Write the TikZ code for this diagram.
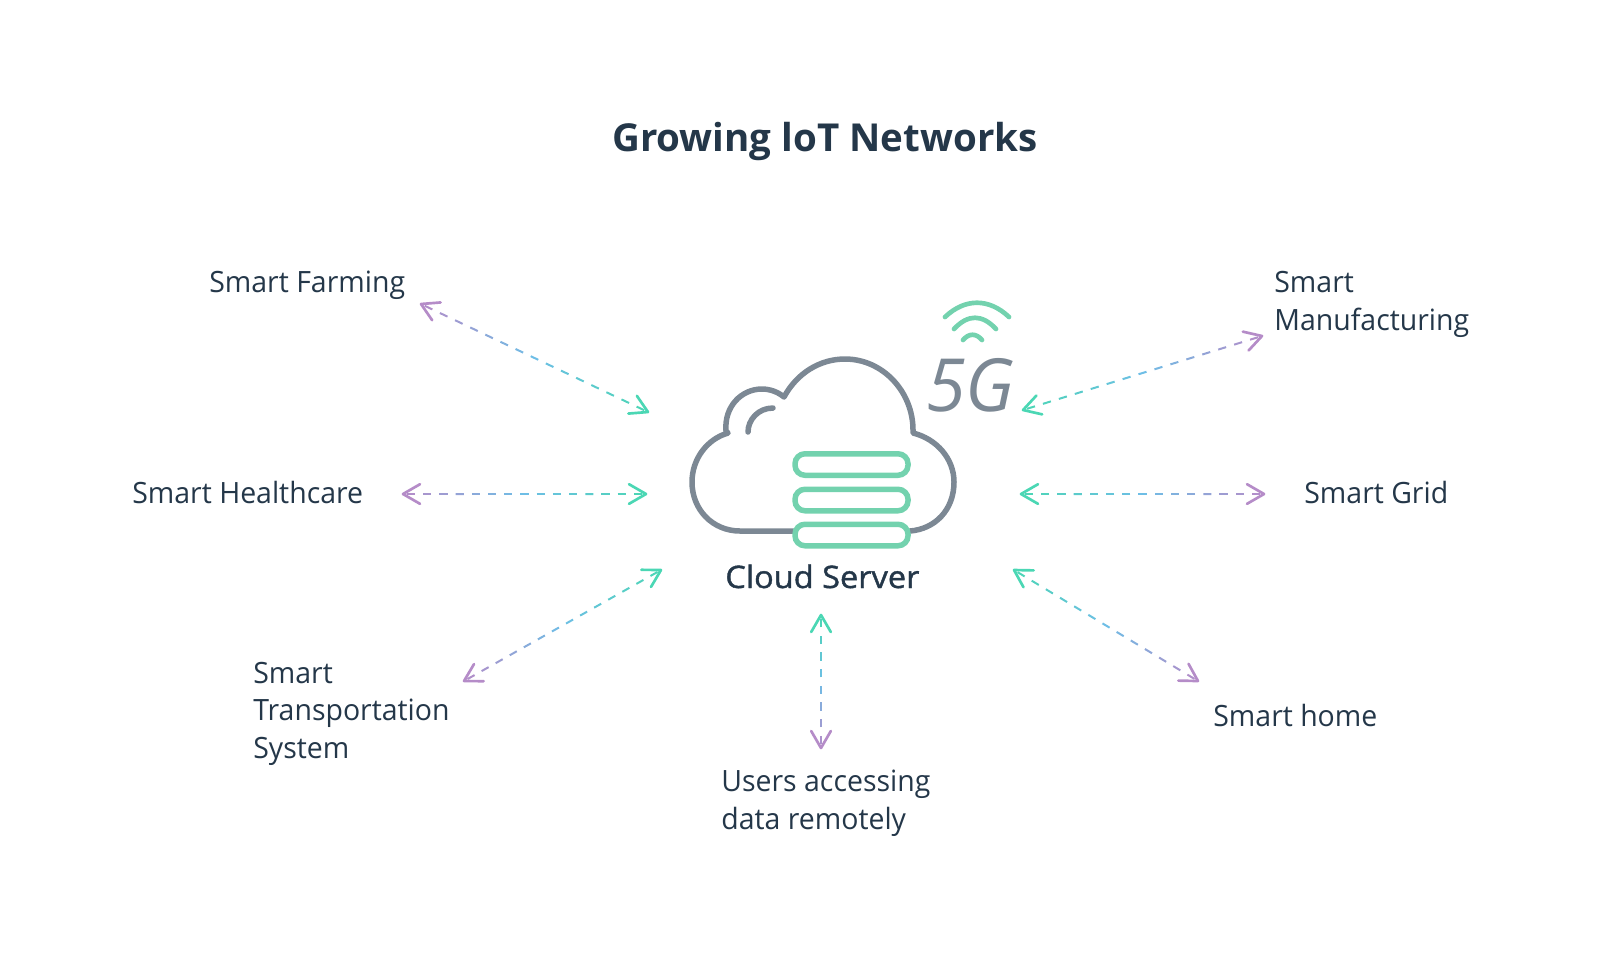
\documentclass[tikz,border=0pt]{standalone}
\usepackage{fontspec}
\setmainfont{Open Sans}
\newfontfamily\labelfam[FakeStretch=0.97]{Open Sans}
\newfontfamily\fivegfam[FakeStretch=0.98]{Open Sans}
\newfontfamily\serverfam[FakeBold=1.2,FakeStretch=1.05]{Open Sans}
\usetikzlibrary{calc}

\definecolor{inkdark}{RGB}{36,55,73}
\definecolor{cloudgrey}{RGB}{124,136,148}
\definecolor{servergreen}{RGB}{115,210,174}
\definecolor{linkpurple}{RGB}{181,140,200}
\definecolor{linkblue}{RGB}{110,190,230}
\definecolor{linkgreen}{RGB}{75,215,180}

\newcommand{\dashlink}[3]{%
	\foreach \i in {1,...,#3}{
		\pgfmathsetmacro\ta{(\i-0.75)/#3}
		\pgfmathsetmacro\tb{(\i-0.25)/#3}
		\pgfmathtruncatemacro\pct{200*(\i-0.5)/#3}
		\ifnum\pct<100
			\colorlet{dashcol}{linkblue!\pct!linkpurple}
		\else
			\pgfmathtruncatemacro\pcb{\pct-100}
			\colorlet{dashcol}{linkgreen!\pcb!linkblue}
		\fi
		\draw[linkdash, color=dashcol] ($(#1)!\ta!(#2)$) -- ($(#1)!\tb!(#2)$);
	}
	\draw[linkhead, color=linkpurple] ($(#1)!11.8pt!30:(#2)$) -- (#1) -- ($(#1)!11.8pt!-30:(#2)$);
	\draw[linkhead, color=linkgreen] ($(#2)!11.8pt!30:(#1)$) -- (#2) -- ($(#2)!11.8pt!-30:(#1)$);
}

\begin{document}
\begin{tikzpicture}[x=0.6pt,y=-0.6pt]
	\tikzset{
		linkdash/.style = {line width=1.2pt},
		linkhead/.style = {line width=1.6pt, line cap=round, line join=round},
		cloudline/.style = {draw=cloudgrey, line width=3.3pt, line cap=round, line join=round},
		wifiline/.style = {draw=servergreen, line width=2.8pt, line cap=round},
		serverbar/.style = {shape=rectangle, draw=servergreen, line width=3.3pt, rounded corners=6pt, minimum width=67.8pt, minimum height=12.9pt, inner sep=0pt, fill=none},
		label/.style = {anchor=base west, inner sep=0pt, align=left, text=inkdark, font={\labelfam\fontsize{17.6}{22.5}\selectfont}}
	}
	\useasboundingbox (0,0) rectangle (1604,955);

	\node[anchor=base west, inner sep=0pt, text=inkdark, font={\bfseries\fontsize{23.1}{28}\selectfont}] (title) at (612,151) {Growing loT Networks};

	% cloud
	\draw[cloudline] (793,531) -- (740,531) .. controls (713,531) and (692,510) .. (692,482)
		.. controls (692,459) and (707,439) .. (728,433) -- (726,431)
		.. controls (724,407) and (741,389) .. (762,389) .. controls (770,389) and (778,392) .. (784,397)
		.. controls (797,373) and (820,359) .. (845,359) .. controls (883,359) and (913,392) .. (913,430) -- (913,433)
		.. controls (937,439) and (954,459) .. (954,482) .. controls (954,510) and (935,529) .. (910,531);
	\draw[cloudline] (773,408) .. controls (758,408) and (748,420) .. (748,432);

	\node[serverbar] (S_1) at (851.5,464.5) {};
	\node[serverbar] (S_2) at (851.5,500) {};
	\node[serverbar] (S_3) at (851.5,535) {};

	% 5G
	\draw[wifiline] (945,317) .. controls (965,298) and (989,298) .. (1009,317);
	\draw[wifiline] (954,329) .. controls (968,314) and (982,314) .. (996,329);
	\draw[wifiline] (963,340) .. controls (969,333) and (976,333) .. (982,340);
	\node[anchor=base west, inner sep=0pt, text=cloudgrey, font={\fivegfam\itshape\fontsize{44}{50}\selectfont}] (fiveg) at (926,411) {5G};

	\node[anchor=base west, inner sep=0pt, text=inkdark, font={\serverfam\fontsize{18.6}{22}\selectfont}] (server) at (725,588) {Cloud Server};

	% labels
	\node[label] (farming) at (209,292) {Smart Farming};
	\node[label] (health) at (132,503) {Smart Healthcare};
	\node[label] (transport) at (253,758) {Smart\\Transportation\\System};
	\node[label] (users) at (721,829) {Users accessing\\data remotely};
	\node[label] (home) at (1213,726) {Smart home};
	\node[label] (grid) at (1304,503) {Smart Grid};
	\node[label] (manuf) at (1274,330) {Smart\\Manufacturing};

	% arrow ends
	\coordinate (F_1) at (421,304);
	\coordinate (F_2) at (648,412);
	\coordinate (H_1) at (403,494);
	\coordinate (H_2) at (646,494);
	\coordinate (T_1) at (464,681);
	\coordinate (T_2) at (661,570);
	\coordinate (U_1) at (821,748);
	\coordinate (U_2) at (821,615);
	\coordinate (O_1) at (1198,681);
	\coordinate (O_2) at (1014,570);
	\coordinate (G_1) at (1264,494);
	\coordinate (G_2) at (1021,494);
	\coordinate (M_1) at (1262,336);
	\coordinate (M_2) at (1023,410);

	\dashlink{F_1}{F_2}{15}
	\dashlink{H_1}{H_2}{15}
	\dashlink{T_1}{T_2}{14}
	\dashlink{U_1}{U_2}{8}
	\dashlink{O_1}{O_2}{13}
	\dashlink{G_1}{G_2}{15}
	\dashlink{M_1}{M_2}{15}
\end{tikzpicture}
\end{document}
